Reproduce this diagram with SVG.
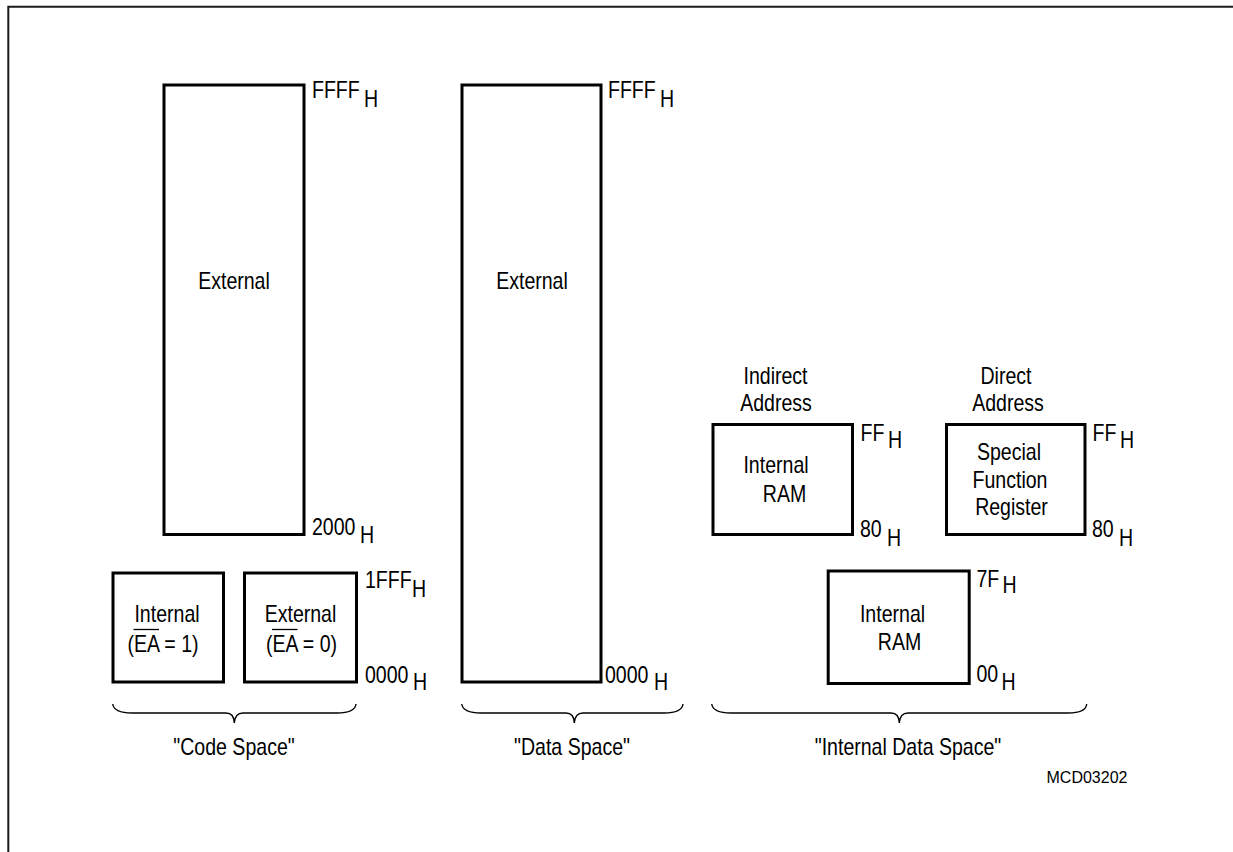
<svg xmlns="http://www.w3.org/2000/svg" width="1233" height="852" viewBox="0 0 1233 852">
<style>
text{font-family:"Liberation Sans",Arial,sans-serif;font-size:23px;fill:#000}
.c{text-anchor:middle}
.id{font-size:16px}
.box{fill:#fff;stroke:#000;stroke-width:3}
.ov{stroke:#000;stroke-width:1.3}
.brace{fill:none;stroke:#000;stroke-width:1.4}
.frame{fill:none;stroke:#1a1a1a;stroke-width:2}
</style>
<rect width="1233" height="852" fill="#fff"/>
<path class="frame" d="M8.3,852 V6.7 H1233"/>

<g id="code-external">
<rect class="box" x="164" y="85" width="140" height="449.5"/>
<text class="c" transform="translate(234,289) scale(0.85,1)">External</text>
<text transform="translate(312,98) scale(0.85,1)">FFFF</text>
<text transform="translate(364,107) scale(0.85,1)">H</text>
<text transform="translate(312,535) scale(0.85,1)">2000</text>
<text transform="translate(360,543) scale(0.85,1)">H</text>
</g>

<g id="code-internal">
<rect class="box" x="113" y="573" width="110.5" height="109"/>
<text class="c" transform="translate(167,622) scale(0.85,1)">Internal</text>
<text class="c" transform="translate(163,652) scale(0.85,1)">(EA = 1)</text>
<line class="ov" x1="133.5" y1="629.5" x2="159" y2="629.5"/>
</g>

<g id="code-external-low">
<rect class="box" x="244.5" y="573" width="112" height="109"/>
<text class="c" transform="translate(300.5,622) scale(0.85,1)">External</text>
<text class="c" transform="translate(301.5,652) scale(0.85,1)">(EA = 0)</text>
<line class="ov" x1="272" y1="629.5" x2="297.5" y2="629.5"/>
<text transform="translate(365,588) scale(0.85,1)">1FFF</text>
<text transform="translate(412,597) scale(0.85,1)">H</text>
<text transform="translate(365,683) scale(0.85,1)">0000</text>
<text transform="translate(413,690) scale(0.85,1)">H</text>
</g>

<g id="data-external">
<rect class="box" x="462" y="85" width="139" height="597"/>
<text class="c" transform="translate(532,289) scale(0.85,1)">External</text>
<text transform="translate(608,98) scale(0.85,1)">FFFF</text>
<text transform="translate(660,107) scale(0.85,1)">H</text>
<text transform="translate(605,683) scale(0.85,1)">0000</text>
<text transform="translate(654,690) scale(0.85,1)">H</text>
</g>

<g id="indirect-ram">
<text class="c" transform="translate(775.5,384) scale(0.85,1)">Indirect</text>
<text class="c" transform="translate(776,410.5) scale(0.85,1)">Address</text>
<rect class="box" x="713" y="424.5" width="139.5" height="110"/>
<text class="c" transform="translate(776,473) scale(0.85,1)">Internal</text>
<text class="c" transform="translate(784.5,501.5) scale(0.85,1)">RAM</text>
<text transform="translate(860.5,440.5) scale(0.85,1)">FF</text>
<text transform="translate(888,447.5) scale(0.85,1)">H</text>
<text transform="translate(860,536.5) scale(0.85,1)">80</text>
<text transform="translate(887,546) scale(0.85,1)">H</text>
</g>

<g id="sfr">
<text class="c" transform="translate(1006,384) scale(0.85,1)">Direct</text>
<text class="c" transform="translate(1008,410.5) scale(0.85,1)">Address</text>
<rect class="box" x="946.5" y="424.5" width="138.5" height="110"/>
<text class="c" transform="translate(1009,460) scale(0.85,1)">Special</text>
<text class="c" transform="translate(1010,488) scale(0.85,1)">Function</text>
<text class="c" transform="translate(1011.5,515) scale(0.85,1)">Register</text>
<text transform="translate(1092.5,440.5) scale(0.85,1)">FF</text>
<text transform="translate(1120,447.5) scale(0.85,1)">H</text>
<text transform="translate(1092,536.5) scale(0.85,1)">80</text>
<text transform="translate(1119,546) scale(0.85,1)">H</text>
</g>

<g id="lower-ram">
<rect class="box" x="828.2" y="571" width="141" height="112.5"/>
<text class="c" transform="translate(892.5,621.5) scale(0.85,1)">Internal</text>
<text class="c" transform="translate(899.5,650) scale(0.85,1)">RAM</text>
<text transform="translate(976.5,586.5) scale(0.85,1)">7F</text>
<text transform="translate(1002.5,593) scale(0.85,1)">H</text>
<text transform="translate(976.5,681.5) scale(0.85,1)">00</text>
<text transform="translate(1001.5,690) scale(0.85,1)">H</text>
</g>

<g id="connectors">
<path class="brace" d="M112.7,704 Q114,713 132,713 H226 Q234,713 234.3,723 Q235,713 243,713 H337 Q355,713 356,704"/>
<path class="brace" d="M461.7,704 Q463,713 481,713 H566 Q574,713 574.3,723 Q575,713 583,713 H664 Q682,713 683,704"/>
<path class="brace" d="M711.7,704 Q713,713 731,713 H891 Q899,713 899.3,723 Q900,713 908,713 H1068 Q1086,713 1086.7,704"/>
</g>

<g id="labels">
<text class="c" transform="translate(234,755) scale(0.85,1)">"Code Space"</text>
<text class="c" transform="translate(572,755) scale(0.85,1)">"Data Space"</text>
<text class="c" transform="translate(908,755) scale(0.85,1)">"Internal Data Space"</text>
<text class="c id" x="1087" y="783">MCD03202</text>
</g>
</svg>
